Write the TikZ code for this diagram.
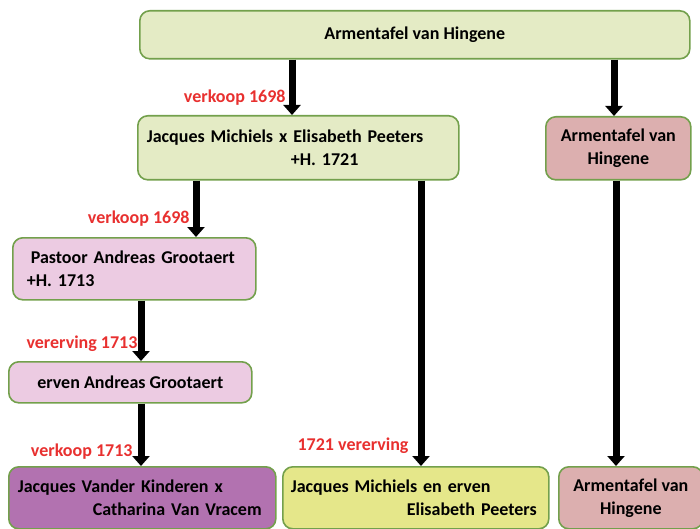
\documentclass[tikz,border=0pt]{standalone}
\usepackage{fontspec}
\setmainfont{Carlito}
\usetikzlibrary{arrows.meta,positioning}

\definecolor{rim}{HTML}{73A04C}
\definecolor{lichtgroen}{HTML}{E4EBC5}
\definecolor{geel}{HTML}{E5E78A}
\definecolor{roze}{HTML}{DCAFAF}
\definecolor{lila}{HTML}{ECCBE2}
\definecolor{paars}{HTML}{B272B0}
\definecolor{rood}{HTML}{E8302F}

\tikzset{
  box/.style={draw=rim, line width=1.6pt, rounded corners=10pt, anchor=north west,
    inner xsep=9pt, inner ysep=0pt, font=\fontsize{18}{23}\selectfont\bfseries},
  flow/.style={line width=7pt, -{Triangle[width=17pt,length=10pt]}},
  lbl/.style={text=rood, inner sep=3pt, font=\fontsize{18}{20}\selectfont\bfseries}
}

\begin{document}
\begin{tikzpicture}[x=1pt, y=-1pt]
      \useasboundingbox (0,0) rectangle (700,529);

      \node[box, fill=lichtgroen, minimum width=550pt, minimum height=48pt] (top) at (139,10) {Armentafel van Hingene};
      \node[box, fill=lichtgroen, minimum width=321pt, minimum height=64pt, text width=303pt, align=left] (jm) at (137,115)
        {Jacques Michiels x Elisabeth Peeters\\\hspace*{144pt}+H. 1721};
      \node[box, fill=roze, minimum width=145pt, minimum height=63pt, align=center] (arm1) at (545,116) {Armentafel van\\Hingene};
      \node[box, fill=lila, minimum width=243pt, minimum height=62pt, text width=215pt, inner xsep=14pt, align=left] (pa) at (12,237)
        {\hspace*{4pt}Pastoor Andreas Grootaert\\+H. 1713};
      \node[box, fill=lila, minimum width=243pt, minimum height=41pt] (erven) at (8,361) {erven Andreas Grootaert};
      \node[box, fill=paars, minimum width=267pt, minimum height=62pt, text width=249pt, align=left] (jvk) at (8,466)
        {Jacques Vander Kinderen x\\\hspace*{75pt}Catharina Van Vracem};
      \node[box, fill=geel, minimum width=266pt, minimum height=62pt, text width=250pt, inner xsep=8pt, align=left] (jme) at (282,466)
        {Jacques Michiels en erven\\\hspace*{116pt}Elisabeth Peeters};
      \node[box, fill=roze, minimum width=144pt, minimum height=62pt, align=center] (arm2) at (558,466) {Armentafel van\\Hingene};

      % overdrachten
      \draw[flow] (top.south -| 292,0) -- (jm.north -| 292,0) node[lbl, pos=0.68, left] (l1) {verkoop 1698};
      \draw[flow] (top.south -| 614,0) -- (arm1.north -| 614,0);
      \draw[flow] (jm.south -| 196,0) -- (pa.north -| 196,0) node[lbl, pos=0.67, left] (l2) {verkoop 1698};
      \draw[flow] (pa.south -| 141,0) -- (erven.north -| 141,0) node[lbl, pos=0.71, left, inner sep=0pt] (l3) {vererving 1713};
      \draw[flow] (erven.south -| 141,0) -- (jvk.north -| 141,0) node[lbl, pos=0.77, left, xshift=-2pt] (l4) {verkoop 1713};
      \draw[flow] (jm.south -| 421,0) -- (jme.north -| 421,0) node[lbl, pos=0.93, left, xshift=-6pt] (l5) {1721 vererving};
      \draw[flow] (arm1.south -| 616,0) -- (arm2.north -| 616,0);

\end{tikzpicture}
\end{document}
